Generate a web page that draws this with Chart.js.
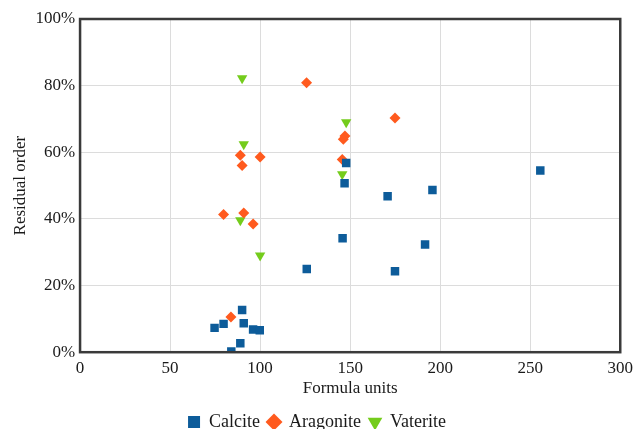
<!DOCTYPE html>
<html>
<head>
<meta charset="utf-8">
<script src="https://cdn.jsdelivr.net/npm/chart.js@4"></script>
<style>
  html, body { margin: 0; padding: 0; background: #fff; overflow: hidden; }
  #wrap { width: 634px; height: 429px; }
</style>
</head>
<body>
<div id="wrap"><canvas id="chart-residual"></canvas></div>
<script>
// data (x = formula units, y = residual order %)
const calciteX   = [74.7, 79.7, 90.0, 90.9, 96.1, 99.8, 89.0, 84.0, 147.8, 146.9, 170.8, 195.7, 255.6, 145.8, 191.6, 125.9, 174.9];
const calciteY   = [7.3, 8.5, 12.7, 8.7, 6.8, 6.6, 2.7, 0.2, 56.8, 50.7, 46.8, 48.7, 54.5, 34.2, 32.3, 25.0, 24.3];
const aragoniteX = [125.8, 147.1, 146.2, 89.0, 100.0, 90.0, 145.6, 79.7, 90.9, 96.1, 174.9, 83.8];
const aragoniteY = [80.9, 64.9, 63.9, 59.1, 58.6, 56.0, 57.8, 41.3, 41.8, 38.5, 70.3, 10.6];
const vateriteX  = [90.0, 90.9, 147.8, 145.6, 89.0, 100.0];
const vateriteY  = [82.2, 62.4, 69.0, 53.4, 39.6, 29.0];

const FONT = { family: '"Liberation Serif", "DejaVu Serif", serif', size: 17 };
const TEXT = '#1a1a1a';

function _pts(xs, ys) { return xs.map((x, i) => ({ x, y: ys[i] })); }

// dark frame round the plot area
const framePlugin = {
  id: 'frame',
  afterDatasetsDraw(chart) {
    const a = chart.chartArea, ctx = chart.ctx;
    ctx.save();
    ctx.strokeStyle = '#3a3a3a';
    ctx.lineWidth = 2.5;
    ctx.strokeRect(a.left, a.top, a.right - a.left, a.bottom - a.top);
    ctx.restore();
  },
};

new Chart(document.getElementById('chart-residual'), {
  type: 'scatter',
  data: {
    datasets: [
      { label: 'Calcite', data: _pts(calciteX, calciteY), pointStyle: 'rect', pointRadius: 6,
        backgroundColor: '#0d5c9a', borderColor: '#0d5c9a', borderWidth: 0 },
      { label: 'Aragonite', data: _pts(aragoniteX, aragoniteY), pointStyle: 'rectRot', pointRadius: 5.5,
        backgroundColor: '#ff5a1e', borderColor: '#ff5a1e', borderWidth: 0 },
      { label: 'Vaterite', data: _pts(vateriteX, vateriteY), pointStyle: 'triangle', pointRotation: 180, pointRadius: 6,
        backgroundColor: '#74cc1c', borderColor: '#74cc1c', borderWidth: 0 },
    ],
  },
  options: {
    responsive: true,
    maintainAspectRatio: false,
    animation: false,
    layout: { padding: { left: 10, right: 10, top: 19, bottom: -12 } },
    plugins: {
      tooltip: { enabled: false },
      legend: {
        position: 'bottom',
        labels: { usePointStyle: true, boxWidth: 12, boxHeight: 12, padding: 8, color: TEXT,
                  font: { ...FONT, size: 18, lineHeight: 1 } },
      },
    },
    scales: {
      x: {
        type: 'linear', min: 0, max: 300,
        ticks: { stepSize: 50, color: TEXT, font: FONT, padding: 1 },
        grid: { color: '#dcdcdc', drawTicks: true, tickLength: 5, tickColor: 'rgba(0,0,0,0)' },
        border: { display: false },
        title: { display: true, text: 'Formula units', color: TEXT, font: FONT, padding: { top: -1, bottom: 6 } },
      },
      y: {
        min: 0, max: 100,
        ticks: { stepSize: 20, color: TEXT, font: FONT, padding: 5, callback: v => v + '%' },
        grid: { color: '#dcdcdc', drawTicks: false },
        border: { display: false },
        title: { display: true, text: 'Residual order', color: TEXT, font: FONT, padding: { top: 0, bottom: 0 } },
      },
    },
  },
  plugins: [framePlugin],
});
</script>
</body>
</html>
